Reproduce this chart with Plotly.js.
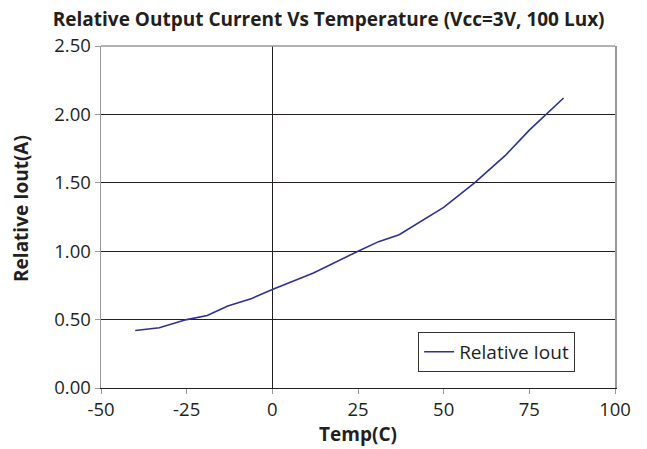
<!DOCTYPE html>
<html>
<head>
<meta charset="utf-8">
<script src="https://cdn.plot.ly/plotly-3.0.1.min.js"></script>
<style>html,body{margin:0;padding:0;background:#fff;}#chart{width:647px;height:449px;}</style>
</head>
<body>
<div id="chart"></div>
<script>
const temps = [-40, -33, -25, -19, -13, -6, 0, 12, 25, 31, 37, 43, 50, 59, 68, 75, 80, 85];
const relIout = [0.42, 0.44, 0.50, 0.53, 0.60, 0.655, 0.72, 0.84, 1.00, 1.07, 1.12, 1.21, 1.32, 1.50, 1.70, 1.885, 2.00, 2.12];
const xTicks = [-50, -25, 0, 25, 50, 75, 100];
const yTicks = [0, 0.5, 1.0, 1.5, 2.0, 2.5];
const seriesName = 'Relative Iout';

const FONT = 'Open Sans, sans-serif';
const INK = '#231f20';
const trace = {
  x: temps, y: relIout, type: 'scatter', mode: 'lines', name: seriesName,
  line: {color: '#2e3192', width: 1.6}
};
const layout = {
  width: 647, height: 449,
  margin: {l: 101, r: 32, t: 46, b: 61},
  paper_bgcolor: '#fff', plot_bgcolor: '#fff',
  font: {family: FONT, size: 18.5, color: INK},
  title: {text: '<b>Relative Output Current Vs Temperature (Vcc=3V, 100 Lux)</b>',
    font: {family: FONT, size: 19, color: INK}, x: 0.508, xanchor: 'center', y: 0.957, yanchor: 'middle'},
  showlegend: true,
  legend: {x: 0.617, y: 0.164, xanchor: 'left', yanchor: 'top', bordercolor: '#333', borderwidth: 1,
    bgcolor: '#fff', font: {family: FONT, size: 19, color: INK}},
  xaxis: {
    range: [-50, 100], tickvals: xTicks, ticktext: xTicks.map(String),
    showgrid: false, zeroline: true, zerolinecolor: INK, zerolinewidth: 1,
    showline: true, linecolor: INK, linewidth: 1, mirror: false,
    ticks: 'outside', ticklen: 5, tickcolor: '#999', tickwidth: 1,
    tickfont: {family: FONT, size: 18.5, color: INK},
    title: {text: '<b>Temp(C)</b>', font: {family: FONT, size: 19, color: INK}, standoff: 2},
    fixedrange: true
  },
  yaxis: {
    range: [0, 2.5], tickvals: yTicks, ticktext: yTicks.map(v => v.toFixed(2)),
    showgrid: true, gridcolor: INK, gridwidth: 1, zeroline: false,
    showline: true, linecolor: '#999', linewidth: 1.5, mirror: true,
    ticks: 'outside', ticklen: 5, tickcolor: '#999', tickwidth: 1,
    tickfont: {family: FONT, size: 18.5, color: INK},
    fixedrange: true
  },
  annotations: [
    {text: '<b>Relative Iout(A)</b>', xref: 'paper', yref: 'paper', x: -0.156, y: 0.526,
     xanchor: 'center', yanchor: 'middle', textangle: -90, showarrow: false,
     font: {family: FONT, size: 19, color: INK}}
  ],
  shapes: [
    {type: 'line', xref: 'paper', yref: 'paper', x0: 0, x1: 1, y0: 1, y1: 1, line: {color: '#999', width: 1.5}}
  ]
};
Plotly.newPlot('chart', [trace], layout, {displayModeBar: false, staticPlot: true});
</script>
</body>
</html>
